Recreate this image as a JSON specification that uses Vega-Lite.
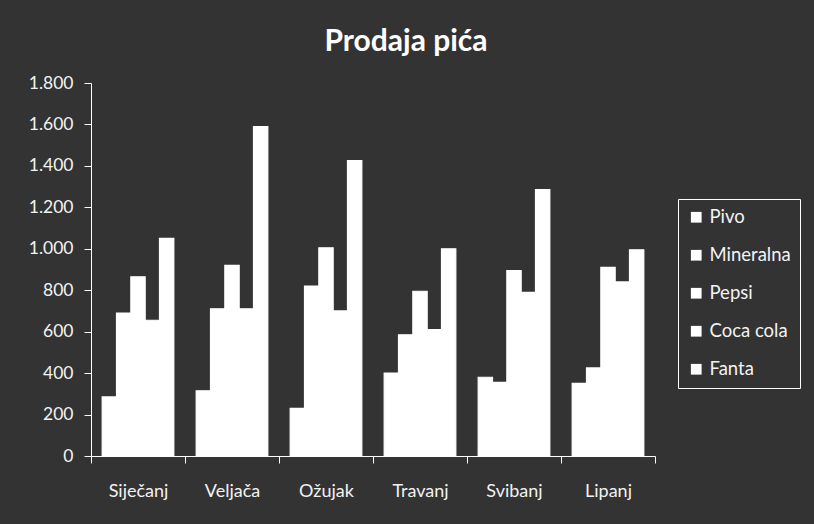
{
  "$schema": "https://vega.github.io/schema/vega-lite/v6.json",
  "width": 564,
  "height": 373,
  "autosize": {"type": "none"},
  "padding": {"left": 91, "top": 83, "right": 159, "bottom": 68},
  "background": "#333333",
  "title": {
    "text": "Prodaja pića",
    "font": "Lato",
    "fontSize": 30,
    "fontWeight": "bold",
    "color": "#ffffff",
    "anchor": "middle",
    "dx": 33,
    "offset": 17
  },
  "data": {
    "values": [
      {"month": "Siječanj", "series": "Pivo", "value": 285},
      {"month": "Siječanj", "series": "Mineralna", "value": 690},
      {"month": "Siječanj", "series": "Pepsi", "value": 865},
      {"month": "Siječanj", "series": "Coca cola", "value": 655},
      {"month": "Siječanj", "series": "Fanta", "value": 1050},
      {"month": "Veljača", "series": "Pivo", "value": 315},
      {"month": "Veljača", "series": "Mineralna", "value": 710},
      {"month": "Veljača", "series": "Pepsi", "value": 920},
      {"month": "Veljača", "series": "Coca cola", "value": 710},
      {"month": "Veljača", "series": "Fanta", "value": 1590},
      {"month": "Ožujak", "series": "Pivo", "value": 230},
      {"month": "Ožujak", "series": "Mineralna", "value": 820},
      {"month": "Ožujak", "series": "Pepsi", "value": 1005},
      {"month": "Ožujak", "series": "Coca cola", "value": 700},
      {"month": "Ožujak", "series": "Fanta", "value": 1425},
      {"month": "Travanj", "series": "Pivo", "value": 400},
      {"month": "Travanj", "series": "Mineralna", "value": 585},
      {"month": "Travanj", "series": "Pepsi", "value": 795},
      {"month": "Travanj", "series": "Coca cola", "value": 610},
      {"month": "Travanj", "series": "Fanta", "value": 1000},
      {"month": "Svibanj", "series": "Pivo", "value": 380},
      {"month": "Svibanj", "series": "Mineralna", "value": 355},
      {"month": "Svibanj", "series": "Pepsi", "value": 895},
      {"month": "Svibanj", "series": "Coca cola", "value": 790},
      {"month": "Svibanj", "series": "Fanta", "value": 1285},
      {"month": "Lipanj", "series": "Pivo", "value": 350},
      {"month": "Lipanj", "series": "Mineralna", "value": 425},
      {"month": "Lipanj", "series": "Pepsi", "value": 910},
      {"month": "Lipanj", "series": "Coca cola", "value": 840},
      {"month": "Lipanj", "series": "Fanta", "value": 995}
    ]
  },
  "mark": {"type": "bar", "color": "#ffffff", "stroke": "#ffffff", "strokeWidth": 1.2},
  "encoding": {
    "x": {
      "field": "month",
      "type": "nominal",
      "sort": ["Siječanj", "Veljača", "Ožujak", "Travanj", "Svibanj", "Lipanj"],
      "scale": {"paddingInner": 0, "paddingOuter": 0},
      "axis": {
        "title": null,
        "labelAngle": 0,
        "labelFont": "Lato",
        "labelFontSize": 18,
        "labelColor": "#f2f2f2",
        "labelPadding": 19,
        "domainColor": "#ffffff",
        "tickColor": "#ffffff",
        "tickSize": 7,
        "tickBand": "extent",
        "grid": false
      }
    },
    "xOffset": {
      "field": "series",
      "type": "nominal",
      "sort": ["Pivo", "Mineralna", "Pepsi", "Coca cola", "Fanta"],
      "scale": {"paddingInner": 0, "paddingOuter": 0.78}
    },
    "y": {
      "field": "value",
      "type": "quantitative",
      "scale": {"domain": [0, 1800]},
      "axis": {
        "title": null,
        "values": [0, 200, 400, 600, 800, 1000, 1200, 1400, 1600, 1800],
        "labelExpr": "replace(format(datum.value, ','), ',', '.')",
        "labelFont": "Lato",
        "labelFontSize": 17.5,
        "labelColor": "#f2f2f2",
        "labelPadding": 11,
        "domainColor": "#ffffff",
        "tickColor": "#ffffff",
        "tickSize": 7,
        "grid": false
      }
    },
    "color": {
      "field": "series",
      "type": "nominal",
      "sort": ["Pivo", "Mineralna", "Pepsi", "Coca cola", "Fanta"],
      "scale": {"range": ["#ffffff", "#ffffff", "#ffffff", "#ffffff", "#ffffff"]},
      "legend": {
        "title": null,
        "orient": "none",
        "legendX": 587,
        "legendY": 116,
        "symbolType": "square",
        "symbolSize": 115,
        "symbolStrokeWidth": 0,
        "labelFont": "Lato",
        "labelFontSize": 18.5,
        "labelColor": "#f2f2f2",
        "labelOffset": 4,
        "rowPadding": 19,
        "padding": 9,
        "strokeColor": "#ffffff"
      }
    }
  },
  "config": {
    "view": {"stroke": null}
  }
}
